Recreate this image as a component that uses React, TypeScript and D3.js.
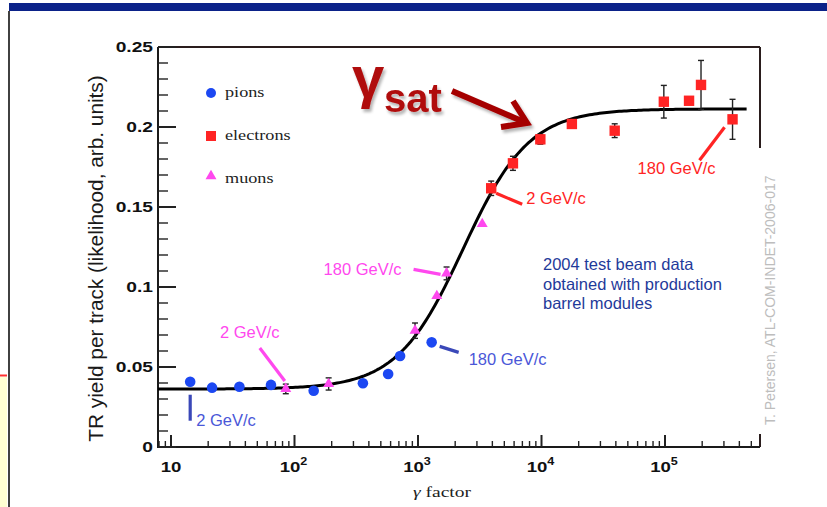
import React from 'react';
import * as d3 from 'd3';

const W = 827;
const H = 507;

// Lorentz factor of each beam point and the measured TR yield per track
const pionGamma = [14.3, 21.5, 35.8, 64.5, 143, 358, 573, 716, 1290];
const pionYield = [0.0408, 0.0371, 0.0377, 0.0388, 0.0352, 0.0398, 0.0456, 0.0569, 0.0654];
const pionErr = [0, 0, 0, 0, 0, 0, 0, 0, 0];

const muonGamma = [85, 189, 946, 1420, 1703, 3312];
const muonYield = [0.0363, 0.0394, 0.0727, 0.0944, 0.1085, 0.1394];
const muonErr = [0.003, 0.0038, 0.0048, 0, 0.004, 0];

const electronGamma = [3914, 5871, 9785, 17613, 39139, 97847, 156556, 195695, 352250];
const electronYield = [0.1617, 0.1773, 0.1923, 0.2019, 0.1977, 0.2158, 0.2164, 0.2263, 0.2048];
const electronErr = [0.0045, 0.0044, 0.003, 0.002, 0.0043, 0.0102, 0, 0.0153, 0.0125];

// Turn-on fit: plateau levels and logistic transition in log10(gamma)
const fitLow = 0.0362;
const fitHigh = 0.2113;
const fitCenter = 3.365;
const fitWidth = 0.267;
const fitEndGamma = 458000;

const yTicks = [0, 0.05, 0.1, 0.15, 0.2, 0.25];
const yTickLabels = ['0', '0.05', '0.1', '0.15', '0.2', '0.25'];
const xDecades = [1, 2, 3, 4, 5];

const legendNames = ['pions', 'electrons', 'muons'];
const noteLines = ['2004 test beam data', 'obtained with production', 'barrel modules'];
const yTitle = 'TR yield per track (likelihood, arb. units)';
const stamp = 'T. Petersen, ATL-COM-INDET-2006-017';

const GAMMA_MIN = Math.pow(10, 0.8947);
const GAMMA_MAX = Math.pow(10, 5.7692);

const C_PION = '#1c48f2';
const C_ELEC = '#ff2424';
const C_MUON = '#ff48ee';
const C_PION_LBL = '#4a57d8';
const C_NOTE = '#1f3a9a';
const C_DARKRED = '#b00c0c';

function fit(g: number) {
  const t = (Math.log10(g) - fitCenter) / fitWidth;
  return fitLow + (fitHigh - fitLow) / (1 + Math.exp(-t));
}

type Series = { gamma: number[]; value: number[]; err: number[] };
const pions: Series = { gamma: pionGamma, value: pionYield, err: pionErr };
const muons: Series = { gamma: muonGamma, value: muonYield, err: muonErr };
const electrons: Series = { gamma: electronGamma, value: electronYield, err: electronErr };

export default function App() {
  const x = d3.scaleLog().domain([GAMMA_MIN, GAMMA_MAX]).range([158, 760]);
  const y = d3.scaleLinear().domain([0, 0.25]).range([447, 47]);
  const [x0, x1] = x.range();
  const [yb, yt] = y.range();

  const fitGammas = d3.range(0, 241).map((i) => {
    const l0 = Math.log10(GAMMA_MIN);
    const l1 = Math.log10(fitEndGamma);
    return Math.pow(10, l0 + ((l1 - l0) * i) / 240);
  });
  const fitPath = d3
    .line<number>()
    .x((g) => x(g))
    .y((g) => y(fit(g)))(fitGammas) as string;

  const tri = d3.symbol().type(d3.symbolTriangle).size(52)() as string;

  const xMinor: { v: number; major: boolean }[] = [];
  for (let d = 0; d <= 5; d++) {
    for (let k = 1; k <= 9; k++) {
      const v = k * Math.pow(10, d);
      if (v >= GAMMA_MIN && v <= GAMMA_MAX) xMinor.push({ v, major: k === 1 });
    }
  }
  const yMinor = d3.range(0, 0.2501, 0.01);

  const errBars = (s: Series, key: string) =>
    s.gamma.map((g, i) =>
      s.err[i] > 0 ? (
        <g key={key + i} stroke="#222" strokeWidth={1.4}>
          <line x1={x(g)} x2={x(g)} y1={y(s.value[i] - s.err[i])} y2={y(s.value[i] + s.err[i])} />
          <line x1={x(g) - 3} x2={x(g) + 3} y1={y(s.value[i] - s.err[i])} y2={y(s.value[i] - s.err[i])} />
          <line x1={x(g) - 3} x2={x(g) + 3} y1={y(s.value[i] + s.err[i])} y2={y(s.value[i] + s.err[i])} />
        </g>
      ) : null
    );

  const pt = (s: Series, i: number) => [x(s.gamma[i]), y(s.value[i])];

  // leader lines and labels placed relative to the point they describe
  const labels = [
    { p: pt(pions, 0), l: [0, 13, 0, 39], t: [6, 44], anchor: 'start', text: '2 GeV/c', c: C_PION_LBL, lc: '#3a48b8' },
    { p: pt(pions, 8), l: [8, 4, 27, 10], t: [37, 23], anchor: 'start', text: '180 GeV/c', c: C_PION_LBL, lc: '#3a48b8' },
    { p: pt(muons, 0), l: [-26, -41, -1, -8], t: [-36, -51], anchor: 'middle', text: '2 GeV/c', c: C_MUON, lc: C_MUON },
    { p: pt(muons, 4), l: [-33, -4, -6, 1], t: [-45, 2], anchor: 'end', text: '180 GeV/c', c: C_MUON, lc: C_MUON },
    { p: pt(electrons, 0), l: [5, 5, 31, 16], t: [35, 16], anchor: 'start', text: '2 GeV/c', c: C_ELEC, lc: C_ELEC },
    { p: pt(electrons, 8), l: [-8, 8, -33, 41], t: [-17, 55], anchor: 'end', text: '180 GeV/c', c: C_ELEC, lc: C_ELEC },
  ];

  const rootFont = "'Liberation Sans', Arial, Helvetica, sans-serif";
  const serif = "'Liberation Serif', 'Times New Roman', serif";

  return (
    <svg
      width={W}
      height={H}
      viewBox={`0 0 ${W} ${H}`}
      style={{ position: 'absolute', left: 0, top: 0, background: '#fff' }}
    >
      <defs>
        <filter id="soft" x="-20%" y="-20%" width="140%" height="160%">
          <feGaussianBlur in="SourceAlpha" stdDeviation="1.6" />
          <feOffset dx="2" dy="3" result="off" />
          <feComponentTransfer>
            <feFuncA type="linear" slope="0.3" />
          </feComponentTransfer>
          <feMerge>
            <feMergeNode />
            <feMergeNode in="SourceGraphic" />
          </feMerge>
        </filter>
      </defs>
      <rect x={0} y={0} width={W} height={H} fill="#fff" />

      {/* slide frame */}
      <rect x={9} y={3} width={W - 9} height={8} fill="#0b2289" />
      <line x1={9} x2={9} y1={11} y2={H} stroke="#111" strokeWidth={1.6} />
      <rect x={0} y={377} width={7} height={H - 377} fill="#ffffd2" />
      <line x1={0} x2={7} y1={375.5} y2={375.5} stroke="#ff3030" strokeWidth={2} />

      {/* plot frame */}
      <line x1={x0} x2={x1} y1={yt} y2={yt} stroke="#2a1d1d" strokeWidth={1.8} />
      <line x1={x1} x2={x1} y1={yt} y2={148} stroke="#2a1d1d" strokeWidth={2} />
      <line x1={x1} x2={x1} y1={434} y2={yb} stroke="#2a1d1d" strokeWidth={2} />
      <line x1={x0} x2={x0} y1={yt} y2={yb + 1} stroke="#1a1a1a" strokeWidth={2} />
      <line x1={x0} x2={x1} y1={yb} y2={yb} stroke="#1a1a1a" strokeWidth={2} />

      {/* y ticks */}
      {yMinor.map((v, i) => {
        const major = i % 5 === 0;
        return (
          <line
            key={'ym' + i}
            x1={x0}
            x2={x0 + (major ? 18 : 10)}
            y1={y(v)}
            y2={y(v)}
            stroke="#222"
            strokeWidth={major ? 2 : 1.4}
          />
        );
      })}
      {yTicks.map((v, i) => (
        <text
          key={'yl' + i}
          transform={`translate(153,${y(v)}) scale(1.28,1)`}
          dy="0.36em"
          textAnchor="end"
          fontFamily={rootFont}
          fontWeight="bold"
          fontSize={15}
          fill="#111"
        >
          {yTickLabels[i]}
        </text>
      ))}

      {/* x ticks */}
      {xMinor.map((t, i) => (
        <line
          key={'xm' + i}
          x1={x(t.v)}
          x2={x(t.v)}
          y1={yb}
          y2={yb - (t.major ? 12 : 6)}
          stroke="#222"
          strokeWidth={t.major ? 2 : 1.4}
        />
      ))}
      {xDecades.map((d) => (
        <text
          key={'xl' + d}
          transform={`translate(${x(Math.pow(10, d)) - (d === 1 ? 0 : 1)},472) scale(1.2,1)`}
          textAnchor="middle"
          fontFamily={rootFont}
          fontWeight="bold"
          fontSize={15.5}
          fill="#111"
        >
          10
          {d > 1 ? (
            <tspan fontSize={10.5} dy={-7}>
              {d}
            </tspan>
          ) : null}
        </text>
      ))}

      {/* axis titles */}
      <text
        transform="translate(413,497) scale(1.3,1)"
        fontFamily={serif}
        fontSize={15}
        fill="#222"
      >
        <tspan fontStyle="italic">γ</tspan> factor
      </text>
      <text
        transform="translate(103,258.5) rotate(-90)"
        textAnchor="middle"
        fontFamily={rootFont}
        fontSize={20.8}
        fill="#1a1a1a"
      >
        {yTitle}
      </text>

      {/* legend */}
      <circle cx={211} cy={93} r={5} fill={C_PION} />
      <rect x={206} y={131} width={10} height={10} fill={C_ELEC} />
      <path d={tri} transform="translate(211,176)" fill={C_MUON} />
      {legendNames.map((n, i) => (
        <text
          key={n}
          transform={`translate(225,${97 + i * 43}) scale(1.3,1)`}
          fontFamily={serif}
          fontSize={14}
          fill="#222"
        >
          {n}
        </text>
      ))}

      {/* fit */}
      <path d={fitPath} fill="none" stroke="#000" strokeWidth={3} />

      {/* error bars */}
      {errBars(pions, 'pe')}
      {errBars(muons, 'me')}
      {errBars(electrons, 'ee')}

      {/* points */}
      {pions.gamma.map((g, i) => (
        <circle key={'p' + i} cx={x(g)} cy={y(pions.value[i])} r={5.3} fill={C_PION} />
      ))}
      {muons.gamma.map((g, i) => (
        <path key={'m' + i} d={tri} transform={`translate(${x(g)},${y(muons.value[i])})`} fill={C_MUON} />
      ))}
      {electrons.gamma.map((g, i) => (
        <rect
          key={'e' + i}
          x={x(g) - 5.2}
          y={y(electrons.value[i]) - 5.2}
          width={10.4}
          height={10.4}
          fill={C_ELEC}
        />
      ))}

      {/* momentum labels */}
      {labels.map((a, i) => (
        <g key={'a' + i}>
          <line
            x1={a.p[0] + a.l[0]}
            y1={a.p[1] + a.l[1]}
            x2={a.p[0] + a.l[2]}
            y2={a.p[1] + a.l[3]}
            stroke={a.lc}
            strokeWidth={3.2}
          />
          <text
            x={a.p[0] + a.t[0]}
            y={a.p[1] + a.t[1]}
            textAnchor={a.anchor as any}
            fontFamily={rootFont}
            fontSize={16.5}
            fill={a.c}
          >
            {a.text}
          </text>
        </g>
      ))}

      {/* note */}
      {noteLines.map((t, i) => (
        <text key={'n' + i} x={543} y={270 + i * 19.5} fontFamily={rootFont} fontSize={16.5} fill={C_NOTE}>
          {t}
        </text>
      ))}

      {/* document stamp */}
      <text
        transform="translate(775,425) rotate(-90)"
        fontFamily={rootFont}
        fontSize={14}
        fill="#bdbdbd"
      >
        {stamp}
      </text>

      {/* saturation annotation */}
      <g filter="url(#soft)">
        <text x={352} y={97} fontFamily={rootFont} fontWeight="bold" fontSize={58} fill={C_DARKRED}>
          γ
        </text>
        <text x={384} y={112} fontFamily={rootFont} fontWeight="bold" fontSize={40} fill={C_DARKRED}>
          sat
        </text>
        <path d="M452,91 L524,122" stroke="#a50606" strokeWidth={6} fill="none" />
        <path
          d="M513,101 L527,123 L501,127"
          stroke="#a50606"
          strokeWidth={6}
          fill="none"
          strokeLinejoin="miter"
        />
      </g>
    </svg>
  );
}
